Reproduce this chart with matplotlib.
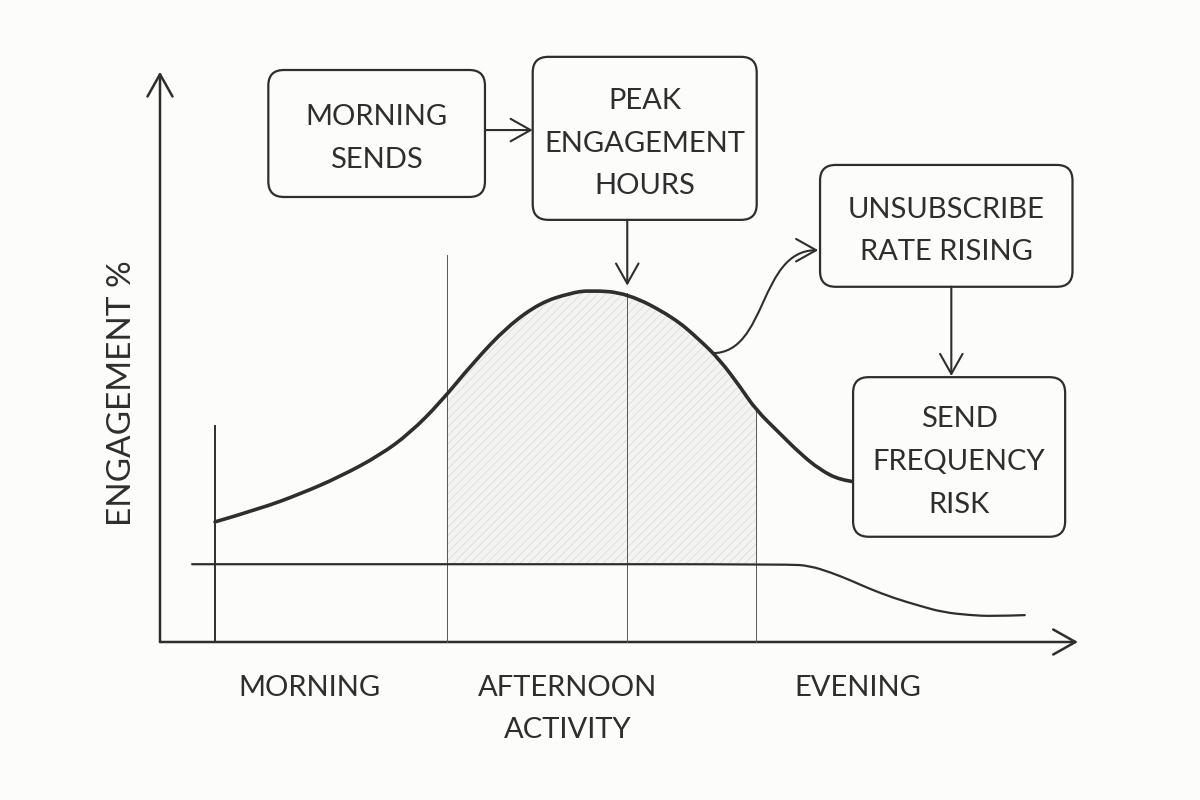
import numpy as np
import matplotlib
matplotlib.use("Agg")
import matplotlib.pyplot as plt
from matplotlib.patches import FancyBboxPatch, FancyArrowPatch, PathPatch
from matplotlib.path import Path

# engagement curve (time units 0-10, engagement 0-100)
curve_x = [0.60, 1.09, 1.53, 1.96, 2.40, 2.72, 3.05, 3.41, 3.78, 4.14, 4.47, 4.68,
           5.09, 5.59, 5.88, 6.10, 6.32, 6.49, 6.75, 6.97, 7.19, 7.41, 7.57]
curve_y = [21.0, 23.3, 25.9, 28.9, 32.7, 36.5, 41.8, 48.8, 55.1, 59.3, 61.0, 61.5,
           61.0, 56.8, 52.8, 49.3, 44.6, 40.6, 36.5, 33.0, 30.1, 28.3, 28.0]

# lower baseline that drops off in the evening
base_x = [0.35, 3.70, 6.86, 7.08, 7.30, 7.52, 7.73, 7.99, 8.28, 8.53, 8.82, 9.07, 9.42]
base_y = [13.6, 13.6, 13.6, 13.3, 12.2, 10.8, 9.3, 7.7, 6.3, 5.2, 4.7, 4.5, 4.7]

# peak window bounds and markers
peak_start, peak_mid, peak_end = 3.13, 5.09, 6.49
send_start = 0.60

x_labels = ["Morning", "Afternoon\nactivity", "Evening"]
x_label_pos = [1.63, 4.44, 7.60]
y_label = "Engagement %"

boxes = [
    ("Morning\nSends", 1.18, 77.8, 3.54, 100.0),
    ("Peak\nEngagement\nHours", 4.06, 73.8, 6.50, 102.3),
    ("Unsubscribe\nRate Rising", 7.19, 62.1, 9.94, 83.4),
    ("Send\nFrequency\nRisk", 7.55, 18.4, 9.86, 46.3),
]

INK = "#2e2e2e"
BG = "#fcfcfb"
plt.rcParams['font.family'] = ['Lato', 'DejaVu Sans']
plt.rcParams['hatch.linewidth'] = 0.6


def smooth_path(xs, ys):
    # quadratic bezier through midpoints, keeps the ends fixed
    pts = np.column_stack([xs, ys])
    verts = [pts[0]]
    codes = [Path.MOVETO]
    for i in range(1, len(pts) - 1):
        mid = (pts[i] + pts[i + 1]) / 2 if i < len(pts) - 2 else pts[i + 1]
        verts += [pts[i], mid]
        codes += [Path.CURVE3, Path.CURVE3]
    return Path(verts, codes)


fig = plt.figure(figsize=(12, 8), dpi=100)
fig.patch.set_facecolor(BG)
ax = fig.add_axes([0, 0, 1, 1])
ax.set_facecolor(BG)
xu, yu = 91.8, 5.72  # pixels per data unit
ax.set_xlim(-160 / xu, 1040 / xu)
ax.set_ylim(-158 / yu, 642 / yu)
ax.axis("off")
aspect = xu / yu

# axes arrows
arrow_kw = dict(arrowstyle="->,head_length=0.8,head_width=0.45", color=INK,
                lw=1.8, mutation_scale=20, shrinkA=0, shrinkB=0)
ax.add_patch(FancyArrowPatch((0, 0), (0, 99.7), **arrow_kw))
ax.add_patch(FancyArrowPatch((0, 0), (10.0, 0), **arrow_kw))

# shaded peak window
cx = np.array(curve_x)
cy = np.array(curve_y)
fx = np.concatenate([[peak_start], cx[(cx > peak_start) & (cx < peak_end)], [peak_end]])
fy = np.interp(fx, cx, cy)
fill_path = smooth_path(fx, fy)
fv = np.vstack([fill_path.vertices, [[peak_end, base_y[0]], [peak_start, base_y[0]], fill_path.vertices[0]]])
fc = list(fill_path.codes) + [Path.LINETO, Path.LINETO, Path.CLOSEPOLY]
ax.add_patch(PathPatch(Path(fv, fc), facecolor="#f4f4f3", edgecolor="#dcdcdc",
                       hatch="////", linewidth=0, zorder=1))

# vertical guides
ax.plot([send_start, send_start], [0, 37.8], color=INK, lw=1.4, zorder=2)
ax.plot([peak_start, peak_start], [0, 67.7], color="#555555", lw=0.7, zorder=2)
ax.plot([peak_mid, peak_mid], [0, np.interp(peak_mid, cx, cy)], color="#555555", lw=0.7, zorder=2)
ax.plot([peak_end, peak_end], [0, np.interp(peak_end, cx, cy)], color="#555555", lw=0.7, zorder=2)

# curves
ax.add_patch(PathPatch(smooth_path(base_x, base_y), facecolor="none", edgecolor=INK,
                       lw=1.6, zorder=3, capstyle="round"))
ax.add_patch(PathPatch(smooth_path(curve_x, curve_y), facecolor="none", edgecolor=INK,
                       lw=2.6, zorder=3, capstyle="round"))

# boxes
for text, x0, y0, x1, y1 in boxes:
    ax.add_patch(FancyBboxPatch((x0, y0), x1 - x0, y1 - y0,
                                boxstyle="round,pad=0,rounding_size=0.17",
                                mutation_aspect=aspect, facecolor=BG,
                                edgecolor=INK, lw=1.6, zorder=4))
    ax.text((x0 + x1) / 2, (y0 + y1) / 2 - 0.9, text.upper(), ha="center", va="center",
            fontsize=21, color=INK, linespacing=1.8, zorder=5)

# connecting arrows
conn_kw = dict(arrowstyle="->,head_length=0.8,head_width=0.45", color=INK,
               lw=1.5, mutation_scale=18, shrinkA=0, shrinkB=0, zorder=5)
ax.add_patch(FancyArrowPatch((3.54, 89.5), (4.06, 89.5), **conn_kw))
ax.add_patch(FancyArrowPatch((5.09, 73.8), (5.09, 62.3), **conn_kw))
ax.add_patch(FancyArrowPatch((8.62, 62.1), (8.62, 46.5), **conn_kw))
s_path = Path([(6.02, 50.5), (6.62, 50.5), (6.52, 68.5), (7.17, 68.5)],
              [Path.MOVETO, Path.CURVE4, Path.CURVE4, Path.CURVE4])
ax.add_patch(FancyArrowPatch(path=s_path, **conn_kw))

# labels
for lab, xp in zip(x_labels, x_label_pos):
    ax.text(xp, -5.7, lab.upper(), ha="center", va="top", fontsize=21,
            color=INK, linespacing=1.8)
ax.text(-0.41, 43.5, y_label.upper(), rotation=90, ha="center", va="center",
        fontsize=24, color=INK)

fig.savefig("out.png", dpi=100, facecolor=fig.get_facecolor())
